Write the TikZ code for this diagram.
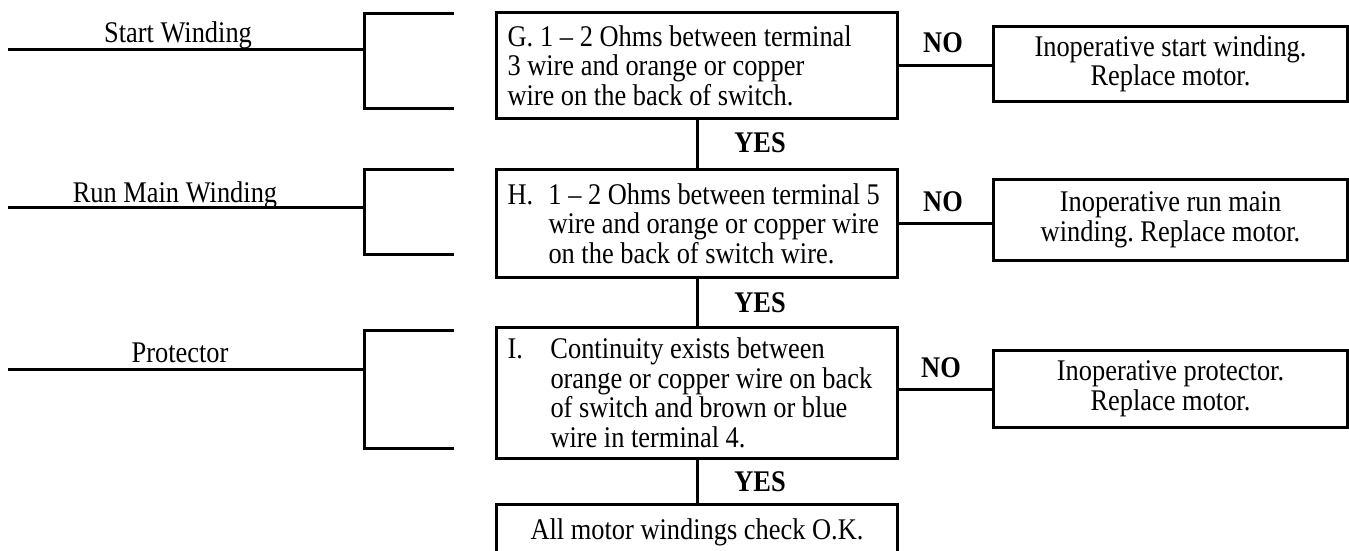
\documentclass[tikz,border=0pt]{standalone}
\usepackage{fontspec}
\setmainfont{Liberation Serif}[FakeStretch=0.88]
\frenchspacing
\begin{document}
\begin{tikzpicture}[x=1pt,y=-1pt,
  line width=3pt,
  txt/.style={font=\fontsize{30}{29.5}\selectfont, inner sep=0pt},
  lbl/.style={font=\bfseries\fontsize{30}{29.5}\selectfont, inner sep=0pt},
  testbox/.style={draw, line width=3pt, anchor=north west, minimum width=401pt, text width=379pt, align=left, inner xsep=11pt, inner ysep=0pt, font=\fontsize{30}{29.5}\selectfont, execute at begin node={\spaceskip=0pt\xspaceskip=0pt\frenchspacing}},
  resbox/.style={draw, line width=3pt, anchor=north west, minimum width=354pt, align=center, inner sep=0pt, font=\fontsize{30}{29.5}\selectfont\frenchspacing},
]
\useasboundingbox (0,0) rectangle (1349,550);
\clip (0,0) rectangle (1349,550);

% central test boxes
\node[testbox, minimum height=106pt] (g) at (495,11)
  {\mbox{G.\hspace{7pt}1 -- 2 Ohms between terminal}\\\mbox{3 wire and orange or copper}\\\mbox{wire on the back of switch.}};
\node[testbox, minimum height=108pt] (h) at (495,168)
  {\mbox{\makebox[41pt][l]{H.}1 -- 2 Ohms between terminal 5}\\\mbox{\hspace*{41pt}wire and orange or copper wire}\\\mbox{\hspace*{41pt}on the back of switch wire.}};
\node[testbox, minimum height=131pt] (i) at (495,326)
  {\mbox{\makebox[43pt][l]{I.}Continuity exists between}\\\mbox{\hspace*{43pt}orange or copper wire on back}\\\mbox{\hspace*{43pt}of switch and brown or blue}\\\mbox{\hspace*{43pt}wire in terminal 4.}};
\node[draw, anchor=north west, minimum width=401pt, inner xsep=0pt, inner ysep=10pt, text height=25pt, text depth=70pt, font=\fontsize{30}{29.5}\selectfont] (fin) at (495,503) {All motor windings check O.K.};

% result boxes
\node[resbox, minimum height=75pt] (rg) at (992,25) {Inoperative start winding.\\Replace motor.};
\node[resbox, minimum height=81pt] (rh) at (992,178) {Inoperative run main\\winding. Replace motor.};
\node[resbox, minimum height=77pt] (ri) at (992,349) {Inoperative protector.\\Replace motor.};

% NO / YES labels
\node[lbl] (nog) at (943,43) {NO};
\node[lbl] (noh) at (943,202) {NO};
\node[lbl] (noi) at (941,368) {NO};
\node[lbl] (yesg) at (760,143) {YES};
\node[lbl] (yesh) at (760,303) {YES};
\node[lbl] (yesi) at (760,482) {YES};

% connectors
\draw (g.south) -- (h.north);
\draw (h.south) -- (i.north);
\draw (i.south) -- (fin.north);
\draw (g.east) -- (g.east -| rg.west);
\draw (h.east) -- (h.east -| rh.west);
\draw (i.east |- ri.west) -- (ri.west);

% left labels
\node[txt] (lsg) at (178,35) {Start Winding};
\node[txt] (lsh) at (175,195) {Run Main Winding};
\node[txt] (lsi) at (180,353) {Protector};

% left lines and brackets
\coordinate (gL) at (8,49);   \coordinate (gV) at (364,49);
\coordinate (gT) at (454,13); \coordinate (gB) at (454,108);
\coordinate (hL) at (8,207);  \coordinate (hV) at (364,207);
\coordinate (hT) at (454,169); \coordinate (hB) at (454,254);
\coordinate (iL) at (8,369);  \coordinate (iV) at (364,369);
\coordinate (iT) at (454,330); \coordinate (iB) at (454,448);

\draw (gL) -- (gV);
\draw (gT) -- (gT -| gV) -- (gB -| gV) -- (gB);
\draw (hL) -- (hV);
\draw (hT) -- (hT -| hV) -- (hB -| hV) -- (hB);
\draw (iL) -- (iV);
\draw (iT) -- (iT -| iV) -- (iB -| iV) -- (iB);
\end{tikzpicture}
\end{document}
